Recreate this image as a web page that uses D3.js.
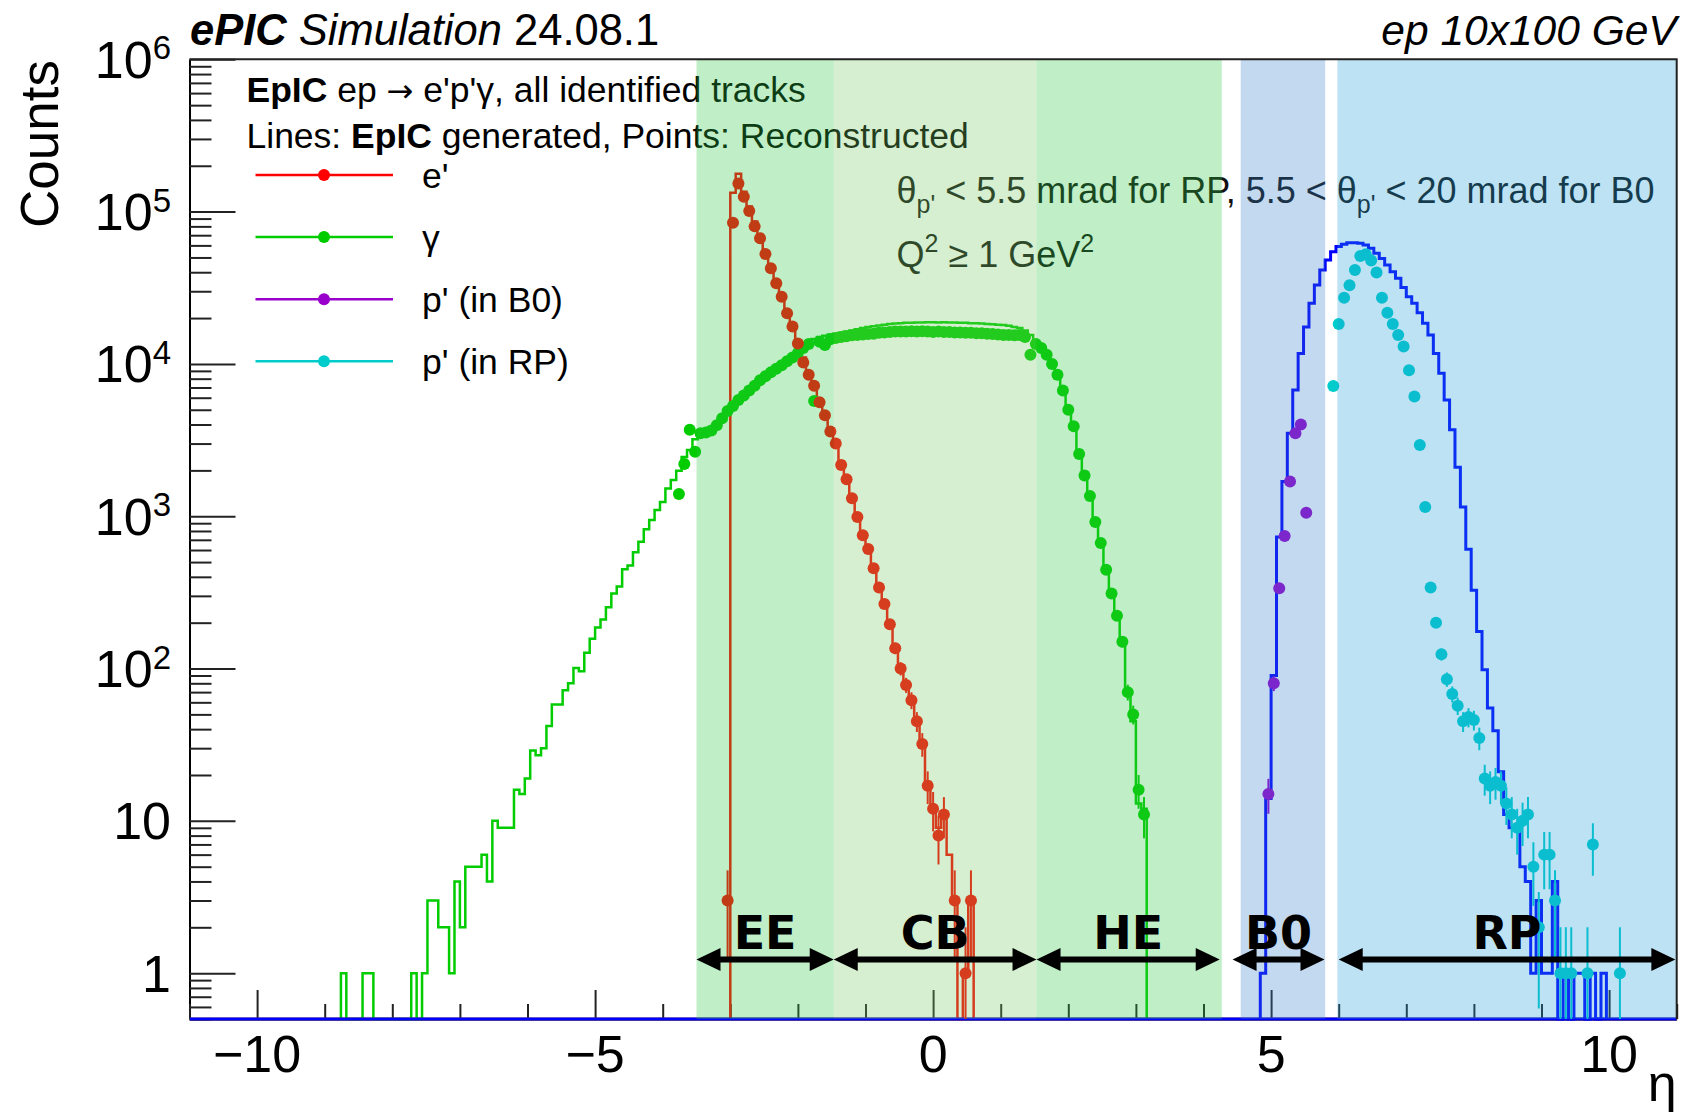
<!DOCTYPE html>
<html>
<head>
<meta charset="utf-8">
<script src="https://cdn.jsdelivr.net/npm/d3@7"></script>
<style>
  html, body { margin: 0; padding: 0; background: #fff; }
  svg { display: block; font-family: "Liberation Sans", Arial, Helvetica, sans-serif; }
</style>
</head>
<body>
<svg id="chart" width="1689" height="1115"></svg>
<script>
// all histograms share the same eta binning
var binWidth = 0.08;

// generated spectra (drawn as lines): low edge of first bin + counts per bin
var gammaGenStart = -8.76;
var gammaGen = [1, 0, 0, 0, 1, 1, 0, 0, 0, 0, 0, 0, 0, 1, 0, 1, 3, 3, 2, 2,
    1, 4, 2, 5, 5, 5, 6, 4, 10, 9, 9, 9, 16, 15, 19, 29, 27, 30, 42, 58,
    58, 72, 80, 101, 96, 127, 157, 186, 210, 253, 311, 345, 448, 474, 580, 680, 820, 946, 1100, 1240,
    1520, 1730, 1990, 2450, 2720, 3200, 3550, 3600, 3700, 4050, 4500, 5000, 5500, 6000, 6400, 6900, 7500, 8000, 8600, 9100,
    9600, 10100, 10700, 11400, 12200, 13200, 14000, 14600, 15000, 15300, 15600, 15800, 16000, 16300, 16600, 16900, 17200, 17500, 17700, 17900,
    18100, 18300, 18400, 18500, 18600, 18600, 18700, 18700, 18800, 18800, 18700, 18800, 18700, 18700, 18600, 18600, 18500, 18500, 18400, 18300,
    18200, 18100, 18000, 17800, 17500, 17200, 16600, 15500, 14000, 12800, 11000, 9500, 8000, 6500, 5000, 3900, 2700, 1950, 1400, 950,
    680, 460, 320, 225, 150, 70, 45, 13, 12];

var eGenStart = -3.00;
var eGen = [133000, 177000, 135000, 108000, 86000, 69000, 55000, 44000, 35000, 28500,
    22500, 18000, 14200, 11000, 8800, 7300, 5800, 4700, 3700, 3000,
    2300, 1800, 1350, 1000, 780, 620, 470, 350, 270, 200,
    140, 105, 80, 62, 45, 32, 18, 12, 9, 11,
    6, 3, 0, 1, 3];

var pGenStart = 4.84;
var pGen = [1, 14, 90, 730, 1690, 3500, 6740, 11700, 17500, 25000,
    33000, 41400, 48100, 54500, 58900, 61000, 62500, 62500, 62000, 60400,
    57400, 53200, 49300, 44600, 40300, 36500, 31800, 27600, 25000, 21700,
    18500, 15500, 11700, 8700, 5800, 3700, 2100, 1150, 607, 327,
    175, 98, 55, 39, 21, 11, 9, 9, 5, 4,
    1, 3, 1, 1, 4, 0, 1, 0, 1, 1,
    0, 1, 0, 1];

// reconstructed spectra (drawn as points): low edge of first bin + counts, null = empty bin
var gammaRecStart = -3.80;
var gammaRec = [1400, 2200, 3700, 2650, 3500, 3550, 3650, 3950, 4400, 4900,
    5300, 5800, 6200, 6700, 7200, 7800, 8300, 8800, 9300, 9800,
    10400, 11000, 11800, 12700, 13500, 5700, 14000, 13300, 14500, 14800,
    15000, 15200, 15400, 15500, 15600, 15700, 15800, 16000, 16100, 16200,
    16300, 16300, 16300, 16400, 16300, 16400, 16300, 16200, 16300, 16200,
    16200, 16100, 16100, 16000, 16000, 15900, 15900, 15800, 15700, 15600,
    15500, 15500, 15400, 15500, 15000, 11500, 13500, 12700, 11500, 10000,
    8500, 6700, 5000, 3900, 2560, 1850, 1360, 917, 667, 446,
    311, 222, 150, 70, 50, 16, 11];

var eRecStart = -3.08;
var eRec = [3, 84500, 153000, 125000, 101000, 80000, 66800, 52700, 42500, 33800,
    27600, 21500, 17600, 13600, 10200, 8500, 7200, 5600, 4600, 3600,
    3000, 2170, 1750, 1310, 990, 750, 610, 455, 340, 265,
    195, 136, 100, 78, 62, 45, 32, 17, 12, 8,
    11, null, 3, null, 1, 3];

var pB0RecStart = 4.92;
var pB0Rec = [15, 80, 337, 741, 1690, 3500, 4000, 1055];

var pRPRecStart = 5.88;
var pRPRec = [7160, 18300, 27200, 32800, 41400, 51100, 52500, 47700, 39800, 27200,
    21700, 18300, 15500, 13000, 9100, 6100, 2930, 1150, 341, 200,
    124, 85, 68, 57, 45, 48, 46, 35, 19, 17,
    18, 17, 13, 11, 9, 10, 11, 5, 2, 6,
    6, 3, 1, 1, 1, null, null, 1, 7, null,
    null, null, null, 1];

// detector regions (eta ranges of shaded bands and of the arrows)
var regionNames = ['EE', 'CB', 'HE', 'B0', 'RP'];
var bandLo = [-3.5, -1.47, 1.53, 4.55, 5.98];
var bandHi = [-1.47, 1.53, 4.27, 5.8, 11];
var arrowLo = [-3.5, -1.47, 1.53, 4.43, 6.0];
var arrowHi = [-1.47, 1.53, 4.24, 5.79, 10.98];

// axis ticks
var yTickPowers = [0, 1, 2, 3, 4, 5, 6];
var xTickLabels = [-10, -5, 0, 5, 10];

// legend
var legendLabels = ["e'", 'γ', "p' (in B0)", "p' (in RP)"];

// ---------------------------------------------------------------
var colE = '#ff0000', colG = '#00cc00', colB0 = '#9900cc', colRP = '#00cccc', colP = '#0000ff';
var bandColors = ['rgb(45,198,68)', 'rgb(115,202,98)', 'rgb(45,198,68)', 'rgb(55,128,202)', 'rgb(38,158,215)'];

var svg = d3.select('#chart');
var width = +svg.attr('width');
var height = +svg.attr('height');
var margin = {t: 59.3, r: 12.3, b: 96, l: 189.5};

var x = d3.scaleLinear().domain([-11, 11]).range([margin.l, width - margin.r]);
var y = d3.scaleLog().domain([0.5, 1e6]).range([height - margin.b, margin.t]);
var yb = y.range()[0];

svg.append('defs').append('clipPath').attr('id', 'plotClip')
    .append('rect')
    .attr('x', margin.l).attr('y', margin.t - 2)
    .attr('width', x.range()[1] - margin.l).attr('height', yb - margin.t + 4);

// ---- axes (ticks point into the frame, ROOT style)
var yMinor = [];
for (var p = -1; p < 6; p++) {
    for (var m = 2; m <= 9; m++) {
        var v = m * Math.pow(10, p);
        if (v >= 0.5 && v < 1e6) yMinor.push(v);
    }
}
svg.append('g')
    .attr('transform', 'translate(' + margin.l + ',0)')
    .call(d3.axisRight(y).tickValues(yMinor).tickSize(22).tickSizeOuter(0).tickFormat(''))
    .call(function(g) { g.select('.domain').attr('stroke-width', 2); })
    .selectAll('.tick line').attr('stroke', '#222').attr('stroke-width', 2);
svg.append('g')
    .attr('transform', 'translate(' + margin.l + ',0)')
    .call(d3.axisRight(y).tickValues(yTickPowers.map(function(e) { return Math.pow(10, e); }))
        .tickSize(46).tickSizeOuter(0).tickFormat(''))
    .call(function(g) { g.select('.domain').remove(); })
    .selectAll('.tick line').attr('stroke', '#222').attr('stroke-width', 2);

var xMinor = d3.range(-11, 12).filter(function(d) { return d % 5 !== 0; });
svg.append('g')
    .attr('transform', 'translate(0,' + yb + ')')
    .call(d3.axisTop(x).tickValues(xMinor).tickSize(15).tickSizeOuter(0).tickFormat(''))
    .call(function(g) { g.select('.domain').attr('stroke-width', 2); })
    .selectAll('.tick line').attr('stroke', '#222').attr('stroke-width', 2);
svg.append('g')
    .attr('transform', 'translate(0,' + yb + ')')
    .call(d3.axisTop(x).tickValues(xTickLabels).tickSize(29).tickSizeOuter(0).tickFormat(''))
    .call(function(g) { g.select('.domain').remove(); })
    .selectAll('.tick line').attr('stroke', '#222').attr('stroke-width', 2);

// y tick labels 1, 10, 10^2 ...
yTickPowers.forEach(function(e) {
    var ty = y(Math.pow(10, e));
    var t = svg.append('text')
        .attr('x', 171).attr('y', ty + 18.5)
        .attr('text-anchor', 'end')
        .attr('font-size', 52);
    if (e === 0) t.text('1');
    else if (e === 1) t.text('10');
    else {
        t.append('tspan').text('10');
        t.append('tspan').attr('font-size', 33).attr('dy', -18.5).text(e);
    }
});
// x tick labels
svg.selectAll('.xlab').data(xTickLabels).enter().append('text')
    .attr('class', 'xlab')
    .attr('x', function(d) { return x(d); })
    .attr('y', 1071.5)
    .attr('text-anchor', 'middle')
    .attr('font-size', 52)
    .text(function(d) { return d < 0 ? '\u2212' + Math.abs(d) : d; });

// axis titles
svg.append('text')
    .attr('transform', 'translate(58,60) rotate(-90)')
    .attr('text-anchor', 'end')
    .attr('font-size', 53)
    .text('Counts');
svg.append('text')
    .attr('x', x.range()[1]).attr('y', 1101)
    .attr('text-anchor', 'end')
    .attr('font-size', 52)
    .text('η');

// ---- histograms (generated)
var plot = svg.append('g').attr('clip-path', 'url(#plotClip)');

function histPath(start, counts) {
    var pts = [[x(start), yb]];
    counts.forEach(function(c, i) {
        var yy = c > 0 ? y(c) : yb;
        pts.push([x(start + i * binWidth), yy], [x(start + (i + 1) * binWidth), yy]);
    });
    pts.push([x(start + counts.length * binWidth), yb]);
    return d3.line()(pts);
}

function drawHist(start, counts, color, lw) {
    plot.append('line')
        .attr('x1', x(-11)).attr('x2', x(11))
        .attr('y1', yb).attr('y2', yb)
        .attr('stroke', color).attr('stroke-width', lw);
    plot.append('path')
        .attr('d', histPath(start, counts))
        .attr('fill', 'none')
        .attr('stroke', color)
        .attr('stroke-width', lw);
}

drawHist(gammaGenStart, gammaGen, colG, 2.5);
drawHist(eGenStart, eGen, colE, 2.5);
drawHist(pGenStart, pGen, colP, 3);

// ---- reconstructed points with error bars (x error = half a bin)
function drawPoints(start, counts, color) {
    var pts = counts.map(function(c, i) {
        return {eta: start + (i + 0.5) * binWidth, v: c};
    }).filter(function(d) { return d.v; });
    var g = plot.append('g');
    g.selectAll('line.ey').data(pts).enter().append('line')
        .attr('class', 'ey')
        .attr('x1', function(d) { return x(d.eta); })
        .attr('x2', function(d) { return x(d.eta); })
        .attr('y1', function(d) { return y(d.v + Math.sqrt(d.v)); })
        .attr('y2', function(d) {
            var lo = d.v - Math.sqrt(d.v);
            return lo > 0.5 ? y(lo) : yb;
        })
        .attr('stroke', color).attr('stroke-width', 2);
    g.selectAll('line.ex').data(pts).enter().append('line')
        .attr('class', 'ex')
        .attr('x1', function(d) { return x(d.eta - binWidth / 2); })
        .attr('x2', function(d) { return x(d.eta + binWidth / 2); })
        .attr('y1', function(d) { return y(d.v); })
        .attr('y2', function(d) { return y(d.v); })
        .attr('stroke', color).attr('stroke-width', 2.5);
    g.selectAll('circle').data(pts).enter().append('circle')
        .attr('cx', function(d) { return x(d.eta); })
        .attr('cy', function(d) { return y(d.v); })
        .attr('r', 6)
        .attr('fill', color);
}

drawPoints(gammaRecStart, gammaRec, colG);
drawPoints(eRecStart, eRec, colE);
drawPoints(pB0RecStart, pB0Rec, colB0);
drawPoints(pRPRecStart, pRPRec, colRP);

// ---- legend and annotations (under the shaded bands)
var head1 = svg.append('text').attr('x', 246.5).attr('y', 101.5).attr('font-size', 35.5);
head1.append('tspan').attr('font-weight', 'bold').text('EpIC');
head1.append('tspan').text(' ep ');
head1.append('tspan').attr('font-family', '"DejaVu Sans", sans-serif').attr('font-size', 32).text('\u2192');
head1.append('tspan').text(" e'p'γ, all identified tracks");
var head2 = svg.append('text').attr('x', 246.5).attr('y', 148).attr('font-size', 35.5);
head2.append('tspan').text('Lines: ');
head2.append('tspan').attr('font-weight', 'bold').text('EpIC');
head2.append('tspan').text(' generated, Points: Reconstructed');

var legendColors = [colE, colG, colB0, colRP];
legendLabels.forEach(function(lab, i) {
    var ly = 175 + i * 62.1;
    svg.append('line')
        .attr('x1', 255.5).attr('x2', 393)
        .attr('y1', ly).attr('y2', ly)
        .attr('stroke', legendColors[i]).attr('stroke-width', 2.5);
    svg.append('circle')
        .attr('cx', 324).attr('cy', ly).attr('r', 6)
        .attr('fill', legendColors[i]);
    svg.append('text')
        .attr('x', 422).attr('y', ly + 12.5)
        .attr('font-size', 35.5)
        .text(lab);
});

var cut1 = svg.append('text').attr('x', 896.5).attr('y', 203).attr('font-size', 36).attr('fill', '#111');
cut1.append('tspan').text('θ');
cut1.append('tspan').attr('font-size', 25).attr('dy', 10).text("p'");
cut1.append('tspan').attr('dy', -10).text(' < 5.5 mrad for RP, 5.5 < θ');
cut1.append('tspan').attr('font-size', 25).attr('dy', 10).text("p'");
cut1.append('tspan').attr('dy', -10).text(' < 20 mrad for B0');

var cut2 = svg.append('text').attr('x', 896.5).attr('y', 266.5).attr('font-size', 36).attr('fill', '#111');
cut2.append('tspan').text('Q');
cut2.append('tspan').attr('font-size', 25).attr('dy', -15).text('2');
cut2.append('tspan').attr('dy', 15).text(' \u2265 1 GeV');
cut2.append('tspan').attr('font-size', 25).attr('dy', -15).text('2');

// ---- shaded detector regions drawn on top
svg.append('g').selectAll('rect').data(regionNames).enter().append('rect')
    .attr('x', function(d, i) { return x(bandLo[i]); })
    .attr('width', function(d, i) { return x(bandHi[i]) - x(bandLo[i]); })
    .attr('y', margin.t)
    .attr('height', yb - margin.t)
    .attr('fill', function(d, i) { return bandColors[i]; })
    .attr('fill-opacity', 0.3);

// frame
svg.append('path')
    .attr('d', 'M' + margin.l + ',' + margin.t + 'H' + x.range()[1] + 'V' + yb)
    .attr('fill', 'none')
    .attr('stroke', '#222')
    .attr('stroke-width', 2);

// ---- double arrows + region labels
var arrowY = 959.5, headLen = 24, headHalf = 11.5;
regionNames.forEach(function(name, i) {
    var x1 = x(arrowLo[i]), x2 = x(arrowHi[i]);
    svg.append('line')
        .attr('x1', x1 + headLen - 2).attr('x2', x2 - headLen + 2)
        .attr('y1', arrowY).attr('y2', arrowY)
        .attr('stroke', '#000').attr('stroke-width', 6);
    svg.append('path')
        .attr('d', 'M' + x1 + ',' + arrowY + 'L' + (x1 + headLen) + ',' + (arrowY - headHalf) +
            'L' + (x1 + headLen) + ',' + (arrowY + headHalf) + 'Z' +
            'M' + x2 + ',' + arrowY + 'L' + (x2 - headLen) + ',' + (arrowY - headHalf) +
            'L' + (x2 - headLen) + ',' + (arrowY + headHalf) + 'Z')
        .attr('fill', '#000');
    svg.append('text')
        .attr('x', (x1 + x2) / 2).attr('y', 949)
        .attr('text-anchor', 'middle')
        .attr('font-family', '"DejaVu Sans", sans-serif')
        .attr('font-weight', 'bold')
        .attr('font-size', 46)
        .text(name);
});

// ---- top labels
var title = svg.append('text').attr('x', 190).attr('y', 45).attr('font-size', 43.5);
title.append('tspan').attr('font-weight', 'bold').attr('font-style', 'italic').text('ePIC');
title.append('tspan').attr('font-style', 'italic').text(' Simulation');
title.append('tspan').text(' 24.08.1');
svg.append('text')
    .attr('x', x.range()[1]).attr('y', 45)
    .attr('text-anchor', 'end')
    .attr('font-size', 42.5)
    .attr('font-style', 'italic')
    .text('ep 10x100 GeV');
</script>
</body>
</html>
